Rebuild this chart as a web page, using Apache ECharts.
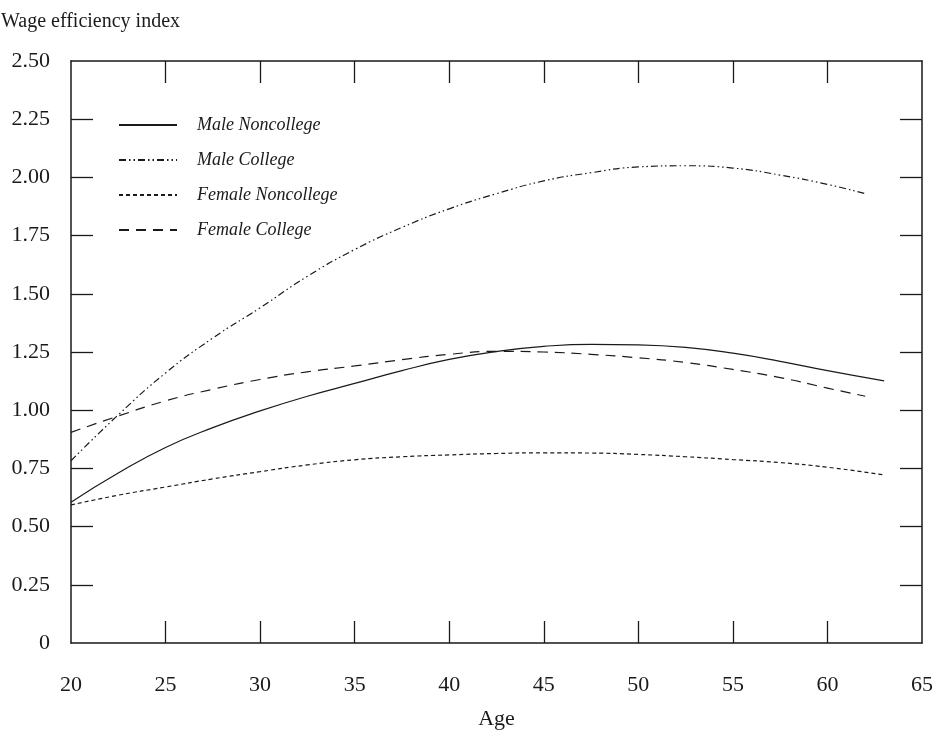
<!DOCTYPE html>
<html>
<head>
<meta charset="utf-8">
<script src="https://cdn.jsdelivr.net/npm/echarts@6/dist/echarts.min.js"></script>
<style>
  html, body { margin: 0; padding: 0; background: #fff; }
  #chart { width: 938px; height: 735px; }
</style>
</head>
<body>
<div id="chart"></div>
<script>
// values
var seriesNames = ['Male Noncollege', 'Male College', 'Female Noncollege', 'Female College']

var xTicks = [25, 30, 35, 40, 45, 50, 55, 60]
var yTicks = [0.25, 0.5, 0.75, 1, 1.25, 1.5, 1.75, 2, 2.25]

var maleNoncollegeAge = [20, 22.5, 25, 27.5, 30, 32.5, 35, 37.5, 40, 42.5, 45, 47.5, 50, 52.5, 55, 57.5, 60, 63]
var maleNoncollege = [0.605, 0.73, 0.84, 0.925, 0.997, 1.06, 1.115, 1.17, 1.218, 1.252, 1.274, 1.283, 1.281, 1.27, 1.245, 1.21, 1.17, 1.126]

var maleCollegeAge = [20, 22.5, 25, 27.5, 30, 32.5, 35, 37.5, 40, 42.5, 45, 47.5, 50, 52.5, 55, 57.5, 60, 62]
var maleCollege = [0.783, 0.98, 1.16, 1.31, 1.44, 1.575, 1.69, 1.785, 1.865, 1.93, 1.985, 2.02, 2.045, 2.05, 2.04, 2.01, 1.97, 1.93]

var femaleNoncollegeAge = [20, 22.5, 25, 27.5, 30, 32.5, 35, 37.5, 40, 42.5, 45, 47.5, 50, 52.5, 55, 57.5, 60, 63]
var femaleNoncollege = [0.593, 0.635, 0.67, 0.705, 0.736, 0.765, 0.787, 0.8, 0.808, 0.814, 0.817, 0.816, 0.81, 0.8, 0.788, 0.775, 0.755, 0.722]

var femaleCollegeAge = [20, 22.5, 25, 27.5, 30, 32.5, 35, 37.5, 40, 42.5, 45, 47.5, 50, 52.5, 55, 57.5, 60, 62]
var femaleCollege = [0.905, 0.975, 1.04, 1.09, 1.132, 1.165, 1.19, 1.217, 1.24, 1.253, 1.25, 1.24, 1.225, 1.205, 1.175, 1.14, 1.095, 1.06]

var font = 'Liberation Serif'
var ink = '#1a1a1a'

function pairs(xs, ys) {
  return xs.map(function(x, i) { return [x, ys[i]] })
}

function lineSeries(name, xs, ys, dash) {
  return {
    name: name,
    type: 'line',
    smooth: true,
    symbol: 'none',
    lineStyle: { color: ink, width: 1.2, type: dash },
    itemStyle: { color: ink },
    data: pairs(xs, ys)
  }
}

function frameAxis(ticks) {
  return {
    axisLine: { show: true, onZero: false, lineStyle: { color: ink, width: 1.5 } },
    axisTick: { show: true, inside: true, length: 22, customValues: ticks, lineStyle: { color: ink, width: 1.3 } },
    splitLine: { show: false }
  }
}

var chart = echarts.init(document.getElementById('chart'))
chart.setOption({
  backgroundColor: '#fff',
  animation: false,
  title: {
    text: 'Wage efficiency index',
    left: 1,
    top: 12,
    padding: 0,
    textStyle: { fontFamily: font, fontSize: 20, fontWeight: 'normal', color: ink }
  },
  legend: {
    data: seriesNames,
    orient: 'vertical',
    left: 113,
    top: 111,
    itemWidth: 58,
    itemHeight: 14,
    itemGap: 17,
    itemStyle: { opacity: 0 },
    textStyle: { fontFamily: font, fontSize: 18, fontStyle: 'italic', color: ink, padding: [0, 0, 0, 15] }
  },
  grid: { left: 71, right: 16, top: 61, bottom: 92 },
  xAxis: [
    Object.assign({
      type: 'value', min: 20, max: 65, interval: 5, position: 'bottom',
      name: 'Age', nameLocation: 'middle', nameGap: 65,
      nameTextStyle: { fontFamily: font, fontSize: 22, color: ink },
      axisLabel: { fontFamily: font, fontSize: 22, color: ink, margin: 31 }
    }, frameAxis(xTicks)),
    Object.assign({
      type: 'value', min: 20, max: 65, interval: 5, position: 'top',
      axisLabel: { show: false }
    }, frameAxis(xTicks))
  ],
  yAxis: [
    Object.assign({
      type: 'value', min: 0, max: 2.5, interval: 0.25, position: 'left',
      axisLabel: {
        fontFamily: font, fontSize: 22, color: ink, margin: 21,
        formatter: function(v) { return v === 0 ? '0' : v.toFixed(2) }
      }
    }, frameAxis(yTicks)),
    Object.assign({
      type: 'value', min: 0, max: 2.5, interval: 0.25, position: 'right',
      axisLabel: { show: false }
    }, frameAxis(yTicks))
  ],
  series: [
    lineSeries(seriesNames[0], maleNoncollegeAge, maleNoncollege, 'solid'),
    lineSeries(seriesNames[1], maleCollegeAge, maleCollege, [7, 3, 1.5, 3, 1.5, 3]),
    lineSeries(seriesNames[2], femaleNoncollegeAge, femaleNoncollege, [4, 3]),
    lineSeries(seriesNames[3], femaleCollegeAge, femaleCollege, [10, 7])
  ]
})
</script>
</body>
</html>
